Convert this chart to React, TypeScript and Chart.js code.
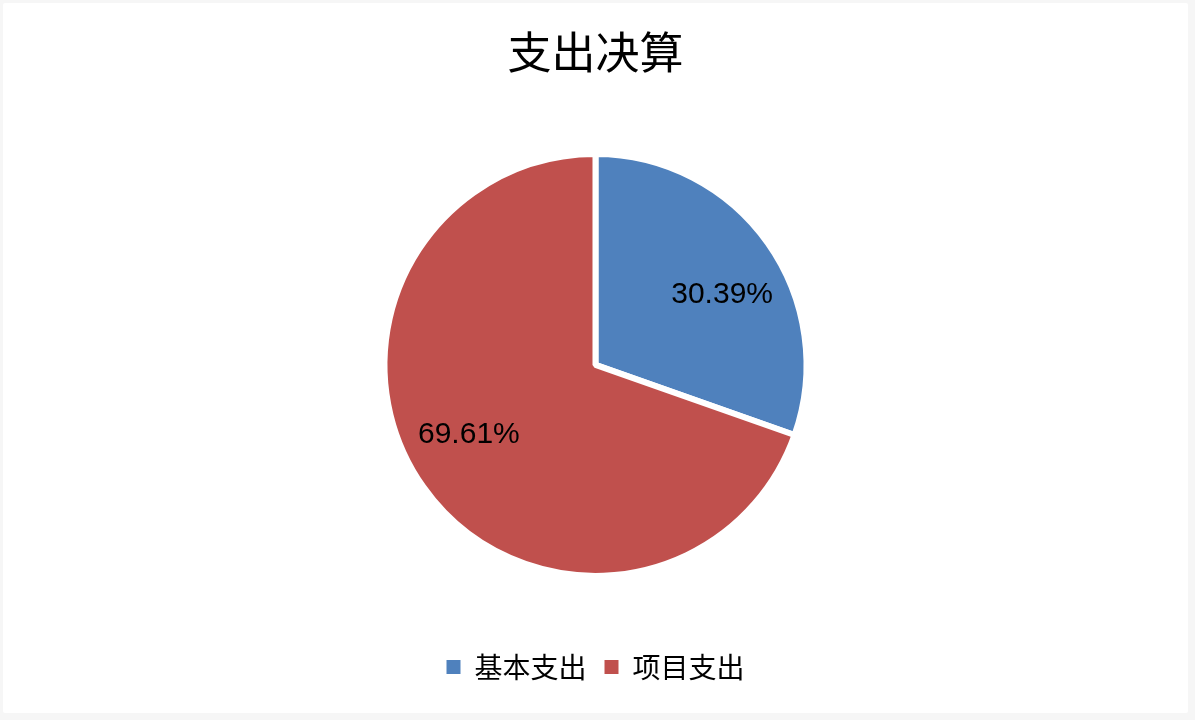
import { useEffect, useRef } from "react";
import { Chart, registerables, Plugin } from "chart.js";

Chart.register(...registerables);

const CATEGORIES = ["基本支出", "项目支出"];
const SHARES = [30.39, 69.61];
const COLORS = ["#4F81BD", "#C0504D"];
const TITLE = "支出决算";

const CJK_FONT = '"Noto Sans CJK SC", "Noto Sans", sans-serif';
const LABEL_FONT = '"Liberation Sans", Arial, sans-serif';

// percentage labels inside the slices
const sliceLabels: Plugin<"pie"> = {
  id: "sliceLabels",
  afterDatasetsDraw(chart) {
    const { ctx } = chart;
    const meta = chart.getDatasetMeta(0);
    ctx.save();
    ctx.font = `30px ${LABEL_FONT}`;
    ctx.fillStyle = "#000";
    ctx.textAlign = "center";
    ctx.textBaseline = "middle";
    meta.data.forEach((arc, i) => {
      const { x, y, startAngle, endAngle, outerRadius } = arc.getProps(
        ["x", "y", "startAngle", "endAngle", "outerRadius"],
        true
      ) as any;
      const mid = (startAngle + endAngle) / 2 + 0.113;
      const r = outerRadius * 0.685;
      ctx.fillText(
        `${SHARES[i].toFixed(2)}%`,
        x + Math.cos(mid) * r,
        y + Math.sin(mid) * r
      );
    });
    ctx.restore();
  },
};

export default function App() {
  const canvasRef = useRef<HTMLCanvasElement>(null);

  useEffect(() => {
    document.body.style.margin = "0";
    if (!canvasRef.current) return;

    const chart = new Chart(canvasRef.current, {
      type: "pie",
      data: {
        labels: CATEGORIES,
        datasets: [
          {
            data: SHARES,
            backgroundColor: COLORS,
            borderColor: "#fff",
            borderWidth: 6,
            radius: 211,
          },
        ],
      },
      options: {
        responsive: true,
        maintainAspectRatio: false,
        animation: false,
        layout: { padding: { top: 0, bottom: 22, left: 0, right: 0 } },
        plugins: {
          tooltip: { enabled: false },
          title: {
            display: true,
            text: TITLE,
            color: "#000",
            font: { family: CJK_FONT, size: 44, weight: "normal", lineHeight: 1.2 },
            padding: { top: 23, bottom: 16 },
          },
          legend: {
            position: "bottom",
            labels: {
              color: "#000",
              font: { family: CJK_FONT, size: 28 },
              boxWidth: 14,
              boxHeight: 14,
              padding: 18,
              generateLabels: (c) =>
                Chart.overrides.pie.plugins.legend.labels
                  .generateLabels(c)
                  .map((l) => ({ ...l, lineWidth: 0, strokeStyle: "transparent" })),
            },
          },
        },
      },
      plugins: [sliceLabels],
    });

    return () => chart.destroy();
  }, []);

  return (
    <div style={{ width: 1195, height: 720, background: "#f6f6f6", position: "relative" }}>
      <div
        style={{
          position: "absolute",
          left: 3,
          top: 3,
          width: 1185,
          height: 710,
          background: "#fff",
          borderRadius: 2,
        }}
      >
        <canvas ref={canvasRef} />
      </div>
    </div>
  );
}
